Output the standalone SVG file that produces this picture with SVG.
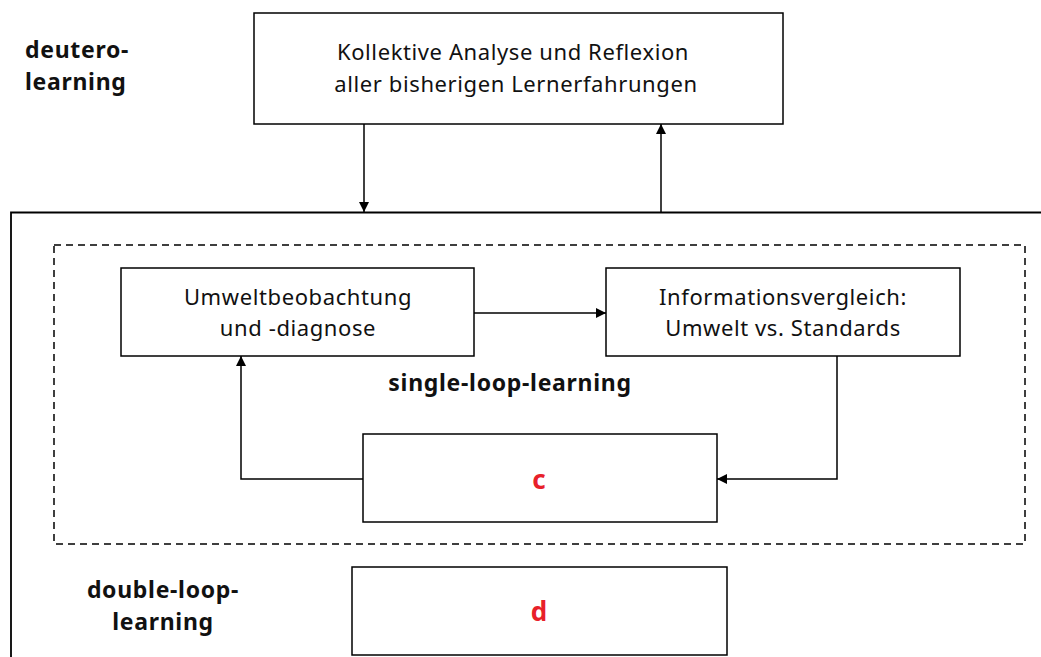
<svg xmlns="http://www.w3.org/2000/svg" width="1041" height="657" viewBox="0 0 1041 657">
<style>
.box{fill:#fff;stroke:#000;stroke-width:1.5}
.t{font-family:"Noto Sans","Open Sans",sans-serif;font-size:22px;letter-spacing:0.6px;fill:#111;text-anchor:middle}
.b{font-family:"Noto Sans","Open Sans",sans-serif;font-size:23px;letter-spacing:0.7px;font-weight:bold;fill:#111}
.r{font-family:"Noto Sans","Open Sans",sans-serif;font-size:26px;font-weight:bold;fill:#e8202a;text-anchor:middle}
.c{fill:none;stroke:#000;stroke-width:1.5}
</style>
<defs>
<marker id="ah" viewBox="0 0 10 10" refX="10" refY="5" markerWidth="10" markerHeight="10" markerUnits="userSpaceOnUse" orient="auto">
<path d="M0,0 L10,5 L0,10 z" fill="#000"/>
</marker>
</defs>
<rect width="1041" height="657" fill="#fff"/>
<g id="frame">
<path class="c" d="M11,657 V212.5 H1041" style="stroke-width:1.8"/>
<rect x="54" y="245" width="971" height="299" fill="none" stroke="#000" stroke-width="1.5" stroke-dasharray="7,5"/>
</g>
<g id="labels">
<text class="b" x="25" y="58">deutero-</text>
<text class="b" x="25" y="90">learning</text>
<text class="b" x="510" y="391" text-anchor="middle">single-loop-learning</text>
<text class="b" x="163" y="598" text-anchor="middle">double-loop-</text>
<text class="b" x="163" y="630" text-anchor="middle">learning</text>
</g>
<g id="top">
<rect class="box" x="254" y="13" width="529" height="111"/>
<text class="t" x="513" y="60">Kollektive Analyse und Reflexion</text>
<text class="t" x="516" y="92">aller bisherigen Lernerfahrungen</text>
</g>
<g id="umwelt">
<rect class="box" x="121" y="268" width="353" height="88"/>
<text class="t" x="298" y="305">Umweltbeobachtung</text>
<text class="t" x="298" y="336">und -diagnose</text>
</g>
<g id="info">
<rect class="box" x="606" y="268" width="354" height="88"/>
<text class="t" x="783" y="305">Informationsvergleich:</text>
<text class="t" x="783" y="336">Umwelt vs. Standards</text>
</g>
<g id="c">
<rect class="box" x="363" y="434" width="354" height="88"/>
<text class="r" x="539" y="489">c</text>
</g>
<g id="d">
<rect class="box" x="352" y="567" width="375" height="88"/>
<text class="r" x="539" y="621">d</text>
</g>
<g id="connectors">
<path class="c" d="M364,124 V212" marker-end="url(#ah)"/>
<path class="c" d="M661,212 V124" marker-end="url(#ah)"/>
<path class="c" d="M474,313 H606" marker-end="url(#ah)"/>
<path class="c" d="M837,356 V479 H717" marker-end="url(#ah)"/>
<path class="c" d="M363,479 H241 V356" marker-end="url(#ah)"/>
</g>
</svg>
